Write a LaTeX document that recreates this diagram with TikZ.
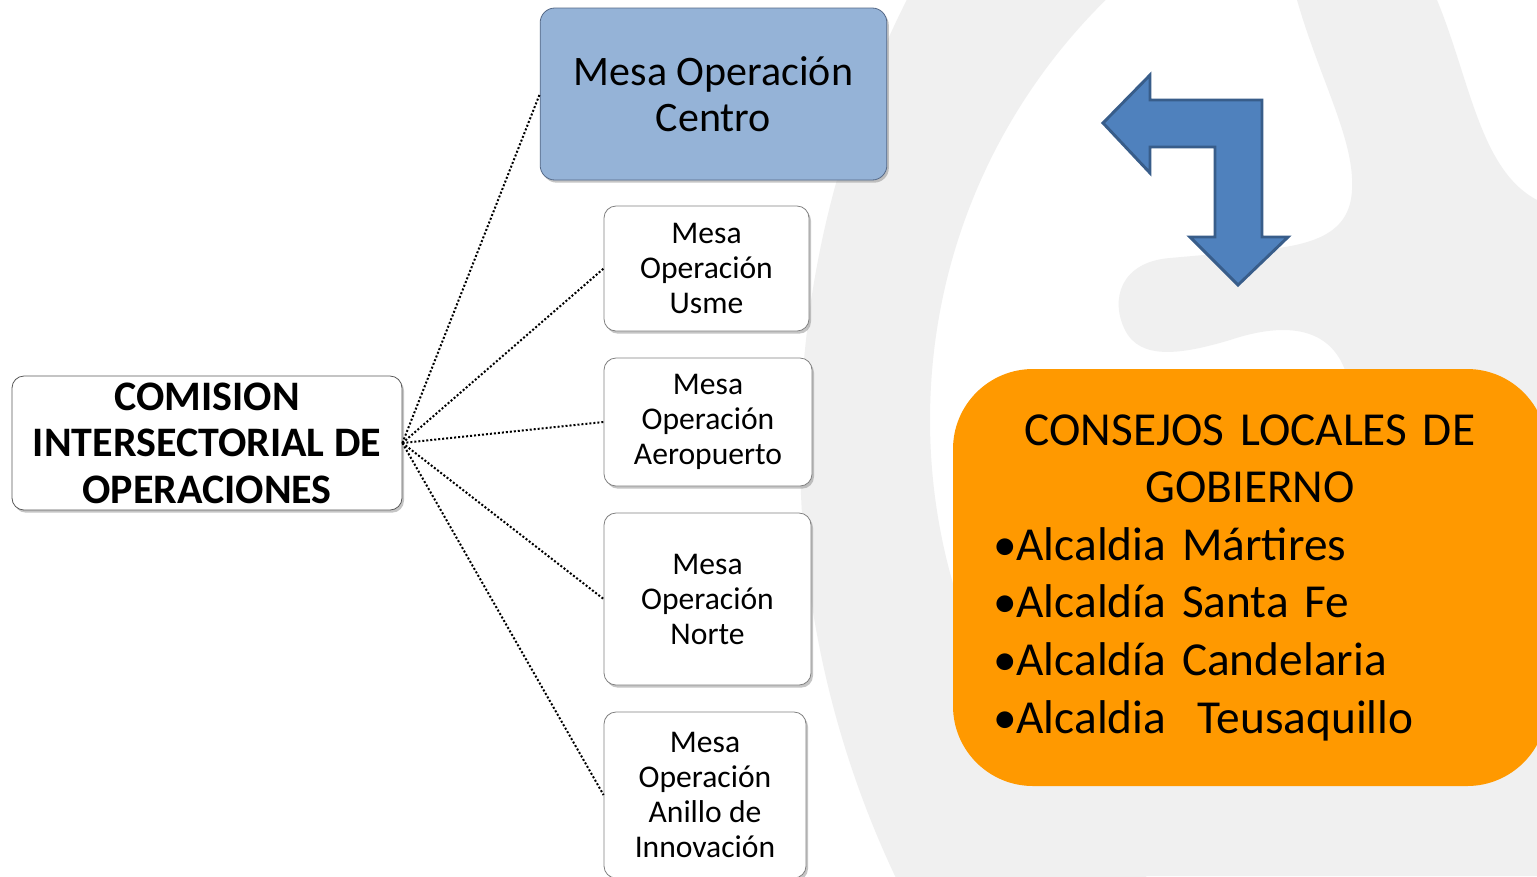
\documentclass[tikz,border=0pt]{standalone}
\usepackage{fontspec}
\setmainfont{Carlito}
\usetikzlibrary{shadows}
\definecolor{mesablue}{RGB}{149,179,215}
\definecolor{mesaedge}{RGB}{85,105,135}
\definecolor{consejoorange}{RGB}{255,153,0}
\definecolor{arrowblue}{RGB}{79,129,189}
\definecolor{arrowedge}{RGB}{56,93,138}
\definecolor{markgray}{RGB}{240,240,240}

\begin{document}
\begin{tikzpicture}[x=0.75pt,y=-0.75pt,semithick]
  \tikzstyle{mesa}=[draw=black!50,fill=white,rounded corners=9pt,align=center,inner sep=2pt,
                    drop shadow={shadow xshift=1.5pt,shadow yshift=-2pt,opacity=.45},
                    font=\fontsize{23.7}{26.25}\selectfont]
  \tikzstyle{link}=[line width=1.5pt,dash pattern=on 1.5pt off 1.5pt]

  \path[use as bounding box,clip] (0,0) rectangle (1537,876);
  \fill[white] (0,0) rectangle (1537,876);
  \fill[markgray,even odd rule] (1800,450) circle[radius=1000] (1520,420) circle[radius=590];
  \fill[markgray] (1297,0) -- (1437,0) .. controls (1470,80) and (1480,170) .. (1537,200)
    -- (1537,876) -- (1000,876) -- (1000,700) -- (1345,700) -- (1345,370)
    .. controls (1330,330) and (1290,320) .. (1230,340)
    .. controls (1180,355) and (1140,360) .. (1125,330)
    .. controls (1110,300) and (1120,262) .. (1170,258) -- (1260,250)
    .. controls (1320,245) and (1350,230) .. (1352,190)
    .. controls (1355,140) and (1320,80) .. (1297,0) -- cycle;

  \node[mesa,fill=mesablue,draw=mesaedge,rounded corners=11pt,minimum width=260pt,minimum height=129pt,
        font=\fontsize{31.5}{34.5}\selectfont] (centro) at (713.5,94) {Mesa Operación\\Centro};
  \node[mesa,minimum width=153.75pt,minimum height=93.75pt] (usme) at (706.5,268.5) {Mesa\\Operación\\Usme};
  \node[mesa,minimum width=156pt,minimum height=96pt] (aeropuerto) at (708,422) {Mesa\\Operación\\Aeropuerto};
  \node[mesa,minimum width=155.25pt,minimum height=129pt] (norte) at (707.5,599) {Mesa\\Operación\\Norte};
  \node[mesa,minimum width=151.5pt,minimum height=124.5pt] (anillo) at (705,795) {Mesa\\Operación\\Anillo de\\Innovación};
  \node[mesa,draw=black!65,inner sep=0pt,minimum width=292.5pt,minimum height=100.5pt,
        font=\bfseries\fontsize{31.5}{34.9}\selectfont] (comision) at (207,443) {COMISION\\INTERSECTORIAL DE\\OPERACIONES};

  \node[fill=consejoorange,rounded corners=60pt,minimum width=445.5pt,minimum height=312.75pt,
        text width=385.5pt,inner sep=0pt,font=\fontsize{35.5}{43.2}\selectfont] (consejos) at (1250,577.5)
        {{\centering CONSEJOS LOCALES DE\\GOBIERNO\par}\raggedright
         •Alcaldia Mártires\\•Alcaldía Santa Fe\\•Alcaldía Candelaria\\•Alcaldia\ \ Teusaquillo};

  \draw[fill=arrowblue,draw=arrowedge,line width=2.2pt,line join=miter]
    (1103,123) -- (1150,75) -- (1150,100) -- (1262,100) -- (1262,237) -- (1288,237) -- (1238,285)
    -- (1190,237) -- (1215,237) -- (1215,147) -- (1150,147) -- (1150,173) -- cycle;

  \foreach \m in {centro,usme,aeropuerto,norte,anillo}
    \draw[link] (comision.east) -- (\m.west);
\end{tikzpicture}
\end{document}
